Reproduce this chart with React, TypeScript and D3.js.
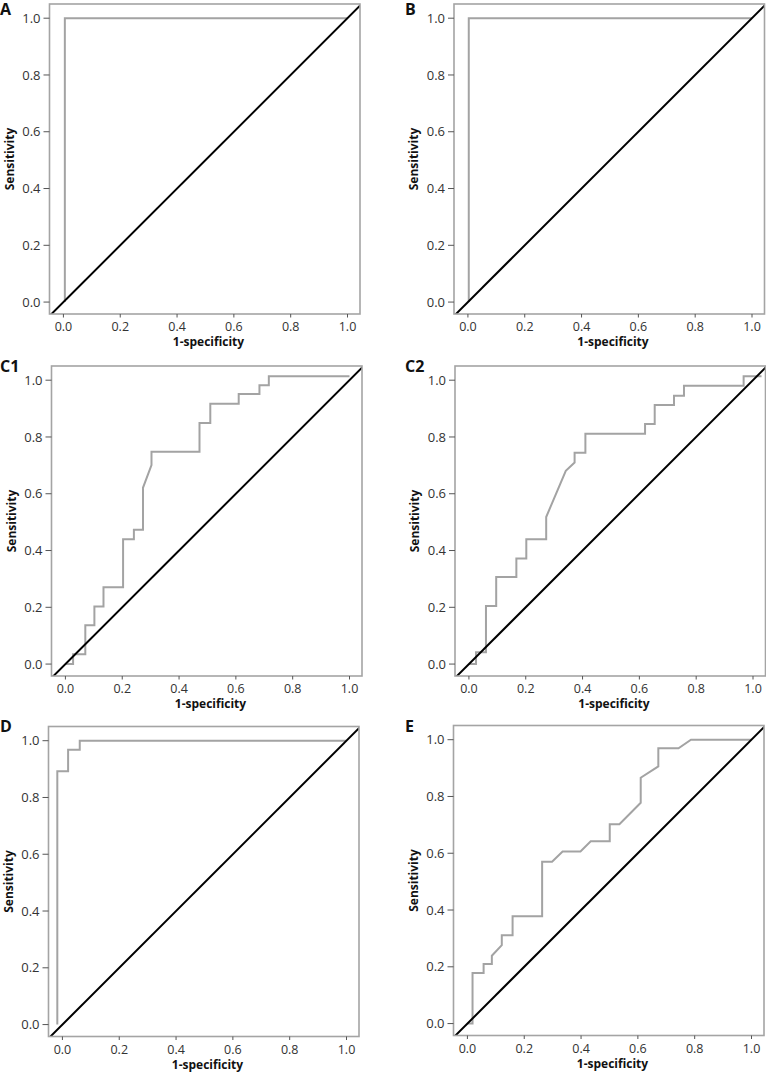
import * as d3 from "d3";

// ROC curves: false positive rate (1-specificity) and sensitivity
const A_FPR = [0.005, 0.005, 1.0];
const A_TPR = [0, 1.0, 1.0];

const B_FPR = [0.003, 0.003, 1.0];
const B_TPR = [0, 1.0, 1.0];

const C1_FPR = [0, 0.027, 0.027, 0.07, 0.07, 0.102, 0.102, 0.134, 0.134, 0.203, 0.203, 0.241, 0.241, 0.273, 0.273, 0.303, 0.303, 0.472, 0.472, 0.51, 0.51, 0.61, 0.61, 0.683, 0.683, 0.716, 0.716, 1.0];
const C1_TPR = [0, 0, 0.035, 0.035, 0.137, 0.137, 0.203, 0.203, 0.271, 0.271, 0.44, 0.44, 0.473, 0.473, 0.621, 0.701, 0.748, 0.748, 0.849, 0.849, 0.917, 0.917, 0.951, 0.951, 0.982, 0.982, 1.014, 1.014];

const C2_FPR = [0, 0.025, 0.025, 0.06, 0.06, 0.096, 0.096, 0.167, 0.167, 0.202, 0.202, 0.272, 0.272, 0.341, 0.372, 0.372, 0.41, 0.41, 0.62, 0.62, 0.654, 0.654, 0.722, 0.722, 0.757, 0.757, 0.967, 0.967, 1.03];
const C2_TPR = [0, 0, 0.042, 0.042, 0.205, 0.205, 0.307, 0.307, 0.372, 0.372, 0.44, 0.44, 0.518, 0.681, 0.71, 0.744, 0.744, 0.811, 0.811, 0.846, 0.846, 0.913, 0.913, 0.945, 0.945, 0.98, 0.98, 1.014, 1.014];

const D_FPR = [-0.018, -0.018, 0.02, 0.02, 0.061, 0.061, 1.0];
const D_TPR = [0, 0.892, 0.892, 0.968, 0.968, 1.0, 1.0];

const E_FPR = [0, 0.018, 0.018, 0.057, 0.057, 0.086, 0.086, 0.121, 0.121, 0.159, 0.159, 0.263, 0.263, 0.298, 0.335, 0.398, 0.434, 0.501, 0.501, 0.535, 0.61, 0.61, 0.672, 0.672, 0.743, 0.787, 1.0];
const E_TPR = [0, 0, 0.178, 0.178, 0.21, 0.21, 0.239, 0.276, 0.311, 0.311, 0.378, 0.378, 0.57, 0.57, 0.606, 0.606, 0.642, 0.642, 0.702, 0.702, 0.778, 0.866, 0.906, 0.97, 0.97, 1.0, 1.0];

// chance line
const REF_X = [-0.06, 1.06];
const REF_Y = [-0.06, 1.06];

const TICKS = [0, 0.2, 0.4, 0.6, 0.8, 1.0];
const PANEL_LABELS = ["A", "B", "C1", "C2", "D", "E"];
const X_TITLE = "1-specificity";
const Y_TITLE = "Sensitivity";

const SERIES = [
  [A_FPR, A_TPR],
  [B_FPR, B_TPR],
  [C1_FPR, C1_TPR],
  [C2_FPR, C2_TPR],
  [D_FPR, D_TPR],
  [E_FPR, E_TPR],
];

// frame position of each panel (left, top) and where its letter sits
const LAYOUT = [
  { left: 49.5, top: 4, lx: 0, ly: 14.5 },
  { left: 454, top: 4, lx: 405, ly: 14.5 },
  { left: 51.5, top: 366, lx: 0, ly: 372 },
  { left: 455, top: 366, lx: 405, ly: 372 },
  { left: 48.5, top: 726.5, lx: 0, ly: 731.5 },
  { left: 453.5, top: 725.5, lx: 405, ly: 731.5 },
];

const W = 310.5;
const H = 310;
const FONT = "'Open Sans', 'Noto Sans', sans-serif";
const CURVE = "#a3a3a3";
const FRAME = "#a4a4a4";

const fmt = d3.format(".1f");

function Panel({ idx }: { idx: number }) {
  const { left, top, lx, ly } = LAYOUT[idx];
  const [fx, fy] = SERIES[idx];
  const x = d3.scaleLinear().domain([-0.049, 1.044]).range([0, W]);
  const y = d3.scaleLinear().domain([-0.042, 1.05]).range([H, 0]);
  const line = d3
    .line<number>()
    .x((_, i) => x(fx[i]))
    .y((_, i) => y(fy[i]));
  const ref = d3
    .line<number>()
    .x((_, i) => x(REF_X[i]))
    .y((_, i) => y(REF_Y[i]));
  const clipId = `clip-${idx}`;

  return (
    <g>
      <text
        x={lx}
        y={ly}
        fontFamily={FONT}
        fontWeight={700}
        fontSize={16}
        fill="#111"
      >
        {PANEL_LABELS[idx]}
      </text>
      <g transform={`translate(${left},${top})`}>
        <defs>
          <clipPath id={clipId}>
            <rect x={0} y={0} width={W} height={H} />
          </clipPath>
        </defs>
        <g clipPath={`url(#${clipId})`}>
          <path
            d={line(fx) ?? ""}
            fill="none"
            stroke={CURVE}
            strokeWidth={2}
            strokeLinejoin="miter"
          />
          <path
            d={ref(REF_X) ?? ""}
            fill="none"
            stroke="#000"
            strokeWidth={2}
          />
        </g>
        <rect
          x={0}
          y={0}
          width={W}
          height={H}
          fill="none"
          stroke={FRAME}
          strokeWidth={1.6}
        />
        {/* y axis */}
        {TICKS.map((t) => (
          <g key={`y${t}`} transform={`translate(0,${y(t)})`}>
            <line x1={-6} x2={0} stroke="#555" strokeWidth={1} />
            <text
              x={-9}
              dy="0.35em"
              textAnchor="end"
              fontFamily={FONT}
              fontSize={13}
              fill="#333"
            >
              {fmt(t)}
            </text>
          </g>
        ))}
        {/* x axis */}
        {TICKS.map((t) => (
          <g key={`x${t}`} transform={`translate(${x(t)},${H})`}>
            <line y1={0} y2={3.5} stroke="#555" strokeWidth={1} />
            <text
              y={17}
              textAnchor="middle"
              fontFamily={FONT}
              fontSize={12.5}
              fill="#333"
            >
              {fmt(t)}
            </text>
          </g>
        ))}
        <text
          x={x(0.5) + 3}
          y={H + 32}
          textAnchor="middle"
          fontFamily={FONT}
          fontWeight={700}
          fontSize={12}
          fill="#111"
        >
          {X_TITLE}
        </text>
        <text
          transform={`translate(-36,${H / 2}) rotate(-90)`}
          textAnchor="middle"
          fontFamily={FONT}
          fontWeight={700}
          fontSize={12}
          fill="#111"
        >
          {Y_TITLE}
        </text>
      </g>
    </g>
  );
}

export default function App() {
  return (
    <svg
      width={766}
      height={1075}
      style={{ position: "absolute", left: 0, top: 0, background: "#fff" }}
    >
      {PANEL_LABELS.map((_, i) => (
        <Panel key={i} idx={i} />
      ))}
    </svg>
  );
}
